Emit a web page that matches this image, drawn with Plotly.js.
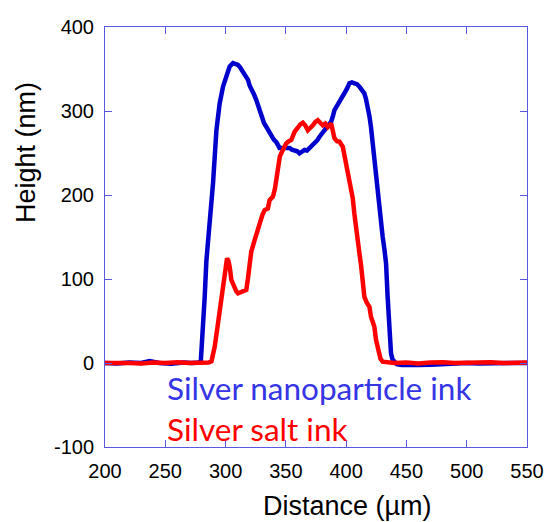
<!DOCTYPE html>
<html>
<head>
<meta charset="utf-8">
<script src="https://cdn.plot.ly/plotly-3.0.1.min.js"></script>
<style>html,body{margin:0;padding:0;background:#fff;}#chart{width:546px;height:522px;}</style>
</head>
<body>
<div id="chart"></div>
<script>
// Silver nanoparticle ink profile
var blueX = [200,210,220,230,237,245,255,265,272,278,279.5,281,282.7,284.1,286.9,288.8,289.6,292.4,295.1,297.9,300.7,303.4,306.2,308,310.3,312,314.4,316.5,318.6,320,321.3,323.5,325.5,327.5,329.6,331.8,333.8,336,337.9,340,342.1,344.8,347,348.9,351,353.1,355,357.2,359.5,361.3,363.5,365.5,367.5,369.6,371.7,373.8,376,377.9,380.5,383.4,385.5,387.6,389,390.3,392.4,394.4,396.5,398.6,400.5,402.7,404.8,406.9,409,411,413,415.1,416.5,417.9,419.3,420.6,422,423.4,424.2,426.1,427.5,428.9,430.3,431.7,433.1,434.4,435.8,437.2,438.5,439.9,442,446,452,460,470,480,490,500,510,520,530,540,550];
var blueY = [0,-0.5,0.5,0,2.4,0,-1,0.5,0,0.5,3,35,79,122,166,198,214,277,309,329,343,353,357,356,355,352,347,342,337,330,327,320,313,303,293,286,281,275,269,266,263,256,256,255.6,256,256,254,253.6,252,249.6,252,253.6,253,255.6,258,261.5,265,269.4,274,279.4,283,287.3,294,301,306,311,314,319,326,333,334,333,332,329,326,321,314,305,294,281,262,242,225,198,178,164,150,136,118.6,79,39,11.5,4,1,-1.5,-2.5,-3,-2.5,-2,-1,-0.5,0,-0.5,0,0.5,0,0];
// Silver salt ink profile
var redX = [200,210,220,230,240,250,260,270,280,286,288.3,289.5,291,293.7,296.5,297.9,299.3,300.3,301.2,302.3,303.4,304.8,306.2,307.6,309,310.3,312.5,314.4,317.2,318.5,320,321.3,324.1,326.8,328.8,330.5,332.4,334,335.1,336.5,339.3,341,342.5,343.4,345,347.5,350.3,352.5,354.5,357.2,359.9,362,364.1,366,368.2,370,372.4,374.5,376.5,378.5,380.6,382.7,384.8,387.6,388.8,390.3,392.4,394.4,397.2,398.5,400,401.3,402.7,404,405.5,406.8,408.2,409.6,411,412.4,413.7,415.1,417,419.3,420.6,423.4,424.8,427,428.5,430.3,435,440,450,460,470,480,490,500,510,520,530,540,550];
var redY = [0,0.5,0,-0.5,0.5,0,1,0,0.5,0.5,2,8,19.4,47,79,91,110.7,120,124.6,122,114.7,98.8,93,91,85,83,84,85,87,100,122.6,132.5,146.4,160,170,176,182,183,184,194,198,208,222,237,246,253.6,261.5,264,265.5,275,281,284,286,283,277,279,283,287,289,286,283,285,281,285,278,267.5,264,263.5,257.5,248,237.7,226,216,205,196,178,158,144,130.6,116,102.7,79,72,67,55,43,27.4,11.5,5,1.5,0.5,0,0.5,-0.5,0.5,1,0,0.5,0,1,0,0.5,0.5];

var xTicks = [200,250,300,350,400,450,500,550];
var xTickText = ['200','250','300','350','400','450','500','550'];
var yTicks = [-100,0,100,200,300,400];
var yTickText = ['-100','0','100','200','300','400'];

var frame = '#5858e2';
var traces = [
  {x: blueX, y: blueY, mode: 'lines', type: 'scatter', line: {color: '#0000cc', width: 4.5}, hoverinfo: 'skip'},
  {x: redX, y: redY, mode: 'lines', type: 'scatter', line: {color: '#ff0000', width: 4.5}, hoverinfo: 'skip'}
];
var axisCommon = {
  showline: true, mirror: 'ticks', linecolor: frame, linewidth: 1,
  ticks: 'inside', ticklen: 7, tickwidth: 1, tickcolor: frame,
  showgrid: false, zeroline: false,
  tickfont: {family: 'Liberation Sans, Arial, sans-serif', size: 20, color: '#000'},
  tickmode: 'array'
};
var layout = {
  width: 546, height: 522,
  margin: {l: 105, r: 19, t: 27, b: 75, pad: 0},
  paper_bgcolor: '#fff', plot_bgcolor: '#fff',
  showlegend: false,
  xaxis: Object.assign({}, axisCommon, {range: [200, 550], tickvals: xTicks, ticktext: xTickText, ticklabelstandoff: 6}),
  yaxis: Object.assign({}, axisCommon, {range: [-100, 400], tickvals: yTicks, ticktext: yTickText, ticklabelstandoff: 6}),
  annotations: [
    {xref: 'paper', yref: 'paper', x: (165-105)/422, y: 1-(388-27)/420, xanchor: 'left', yanchor: 'middle', showarrow: false,
     text: 'Silver nanoparticle ink', font: {family: 'Lato, sans-serif', size: 31.5, color: '#3535e5'}},
    {xref: 'paper', yref: 'paper', x: (165-105)/422, y: 1-(429-27)/420, xanchor: 'left', yanchor: 'middle', showarrow: false,
     text: 'Silver salt ink', font: {family: 'Lato, sans-serif', size: 31.5, color: '#ff0000'}},
    {xref: 'paper', yref: 'paper', x: (347-105)/422, y: 1-(506-27)/420, xanchor: 'center', yanchor: 'middle', showarrow: false,
     text: 'Distance (\u00b5m)', font: {family: 'Liberation Sans, Arial, sans-serif', size: 27, color: '#000'}},
    {xref: 'paper', yref: 'paper', x: (26-105)/422, y: 1-(153-27)/420, xanchor: 'center', yanchor: 'middle', showarrow: false, textangle: -90,
     text: 'Height (nm)', font: {family: 'Liberation Sans, Arial, sans-serif', size: 27, color: '#000'}}
  ]
};
Plotly.newPlot('chart', traces, layout, {staticPlot: true, displayModeBar: false});
</script>
</body>
</html>
